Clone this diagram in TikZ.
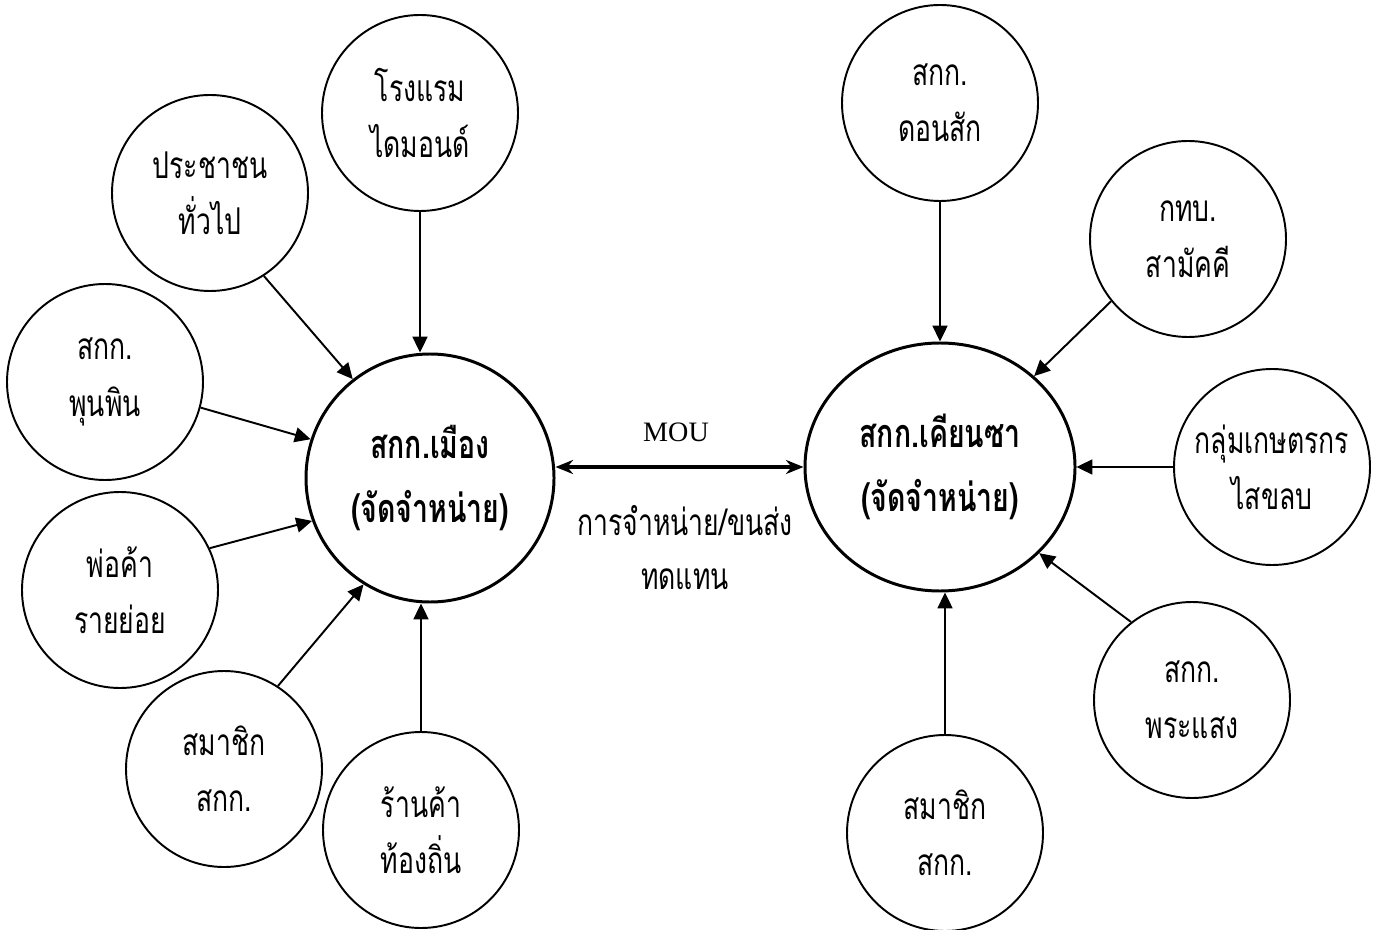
\documentclass[tikz,border=0pt]{standalone}
\usepackage{fontspec}
\setmainfont{Liberation Serif}
\newfontfamily\thai[Script=Thai,FakeStretch=0.72]{Loma}
\usetikzlibrary{arrows.meta,shapes.geometric}

\tikzset{
  party/.style={circle, draw, line width=1.1pt, minimum size=3.92cm, inner sep=0pt,
    align=center, font=\thai\fontsize{21}{32}\selectfont},
  hub/.style={draw, line width=1.7pt, inner sep=0pt, align=center,
    font=\thai\bfseries\fontsize{22.5}{36}\selectfont},
  feed/.style={-{Triangle[length=9pt,width=8.5pt]}, line width=1.1pt},
  mou/.style={{Stealth[length=10pt,width=8pt]}-{Stealth[length=10pt,width=8pt]}, line width=2pt},
}

\begin{document}
\begin{tikzpicture}
  \useasboundingbox (0,0) rectangle (27.72,-18.6);

  % the two distribution co-ops
  \node[hub, circle, minimum size=4.96cm] (muang) at (8.6,-9.56) {สกก.เมือง\\(จัดจำหน่าย)};
  \node[hub, ellipse, minimum width=5.4cm, minimum height=4.96cm] (khian) at (18.8,-9.34) {สกก.เคียนซา\\(จัดจำหน่าย)};

  % buyers of muang
  \node[party] (hotel) at (8.4,-2.26) {โรงแรม\\ไดมอนด์};
  \node[party] (people) at (4.2,-3.86) {ประชาชน\\ทั่วไป};
  \node[party] (punpin) at (2.1,-7.64) {สกก.\\พุนพิน};
  \node[party] (retail) at (2.4,-11.8) {พ่อค้า\\รายย่อย};
  \node[party] (memmuang) at (4.48,-15.38) {สมาชิก\\สกก.};
  \node[party] (shop) at (8.42,-16.6) {ร้านค้า\\ท้องถิ่น};

  % suppliers of khian
  \node[party] (donsak) at (18.8,-2.06) {สกก.\\ดอนสัก};
  \node[party] (ktb) at (23.76,-4.78) {กทบ.\\สามัคคี};
  \node[party] (farmers) at (25.44,-9.34) {กลุ่มเกษตรกร\\ไสขลบ};
  \node[party] (phrasaeng) at (23.84,-14.0) {สกก.\\พระแสง};
  \node[party] (memkhian) at (18.9,-16.66) {สมาชิก\\สกก.};

  % labels of the agreement
  \node[font=\fontsize{16}{19}\selectfont] (moulabel) at (13.52,-8.64) {MOU};
  \node[align=center, font=\thai\fontsize{21}{31}\selectfont] (trade) at (13.7,-10.95) {การจำหน่าย/ขนส่ง\\ทดแทน};

  \draw[feed] (hotel.south) -- (hotel.south |- muang.north);
  \draw[feed] (people.303) -- (muang.128);
  \draw[feed] (punpin.345) -- (muang.162);
  \draw[feed] (retail.25) -- (muang.200);
  \draw[feed] (memmuang.57) -- (muang.238);
  \draw[feed] (shop.north) -- (shop.north |- muang.south);

  \draw[feed] (donsak) -- (khian);
  \draw[feed] (ktb.219) -- (khian.44);
  \draw[feed] (farmers) -- (khian);
  \draw[feed] (phrasaeng.128) -- (khian.319);
  \draw[feed] (memkhian.north) -- (memkhian.north |- khian.south);

  \draw[mou] (muang.east |- khian.west) -- (khian.west);
\end{tikzpicture}
\end{document}
